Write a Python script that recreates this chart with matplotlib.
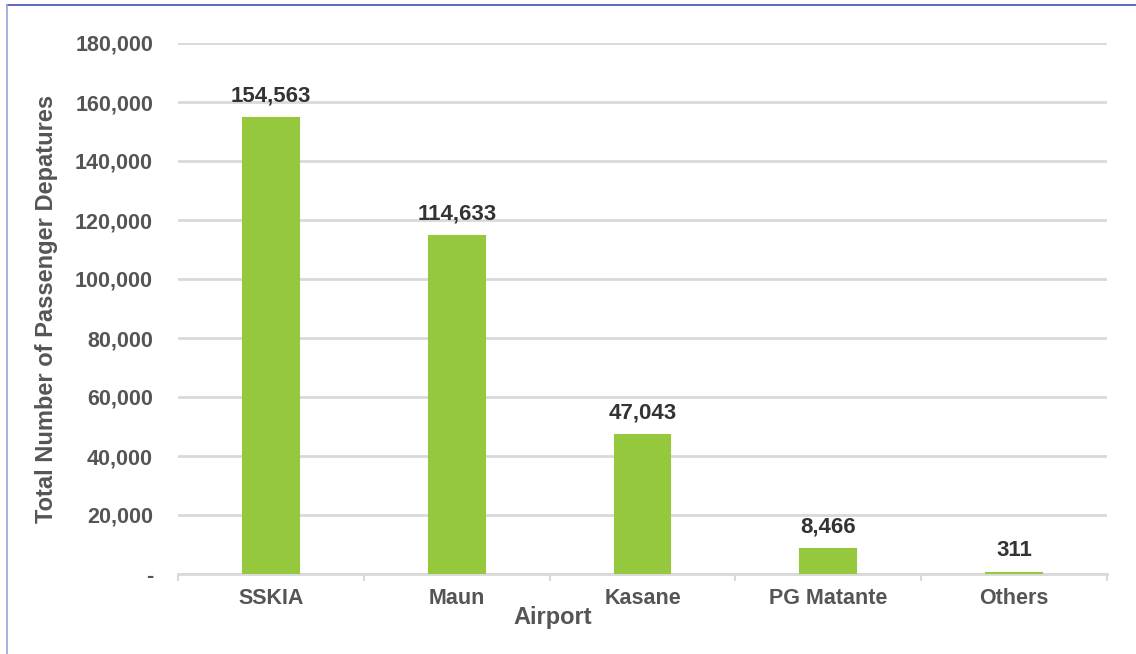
import matplotlib.pyplot as plt
from matplotlib.lines import Line2D

airports = ["SSKIA", "Maun", "Kasane", "PG Matante", "Others"]
departures = [154563, 114633, 47043, 8466, 311]
yticks = [0, 20000, 40000, 60000, 80000, 100000, 120000, 140000, 160000, 180000]
ytick_labels = ["-", "20,000", "40,000", "60,000", "80,000", "100,000",
                "120,000", "140,000", "160,000", "180,000"]

plt.rcParams["font.family"] = ["Liberation Sans", "DejaVu Sans"]
plt.rcParams["font.weight"] = "bold"

fig = plt.figure(figsize=(11.36, 6.54), dpi=100)
ax = fig.add_axes([178/1136, 80/654, (1107-178)/1136, (574-43)/654])

x = list(range(len(airports)))
ax.bar(x, departures, width=0.30, color="#95c83d", edgecolor="#95c83d",
       linewidth=1.5, zorder=3)
for xi, v in zip(x, departures):
    ax.text(xi, v + 4000, f"{v:,}", ha="center", va="bottom",
            fontsize=16, fontweight="bold", color="#333333")

ax.set_xlim(-0.5, len(airports) - 0.5)
ax.set_ylim(0, 180000)
ax.set_yticks(yticks)
ax.set_yticklabels(ytick_labels)
ax.set_xticks(x)
ax.set_xticklabels(airports)
ax.set_xticks([i - 0.5 for i in range(len(airports) + 1)], minor=True)

ax.grid(axis="y", color="#d9d9d9", linewidth=2, zorder=0)
for s in ["top", "right", "left"]:
    ax.spines[s].set_visible(False)
ax.spines["bottom"].set_color("#d9d9d9")
ax.spines["bottom"].set_linewidth(2)

ax.tick_params(axis="y", length=0, pad=18, labelsize=15.5, labelcolor="#555555")
ax.tick_params(axis="x", which="major", length=0, pad=10, labelsize=15.5, labelcolor="#555555")
ax.tick_params(axis="x", which="minor", length=5, width=1.5, color="#d9d9d9")

ax.set_xlabel("Airport", fontsize=17, fontweight="bold", color="#555555")
ax.xaxis.set_label_coords((553 - 178) / 929, -(606 - 574) / 531)
ax.set_ylabel("Total Number of Passenger Depatures", fontsize=17,
              fontweight="bold", color="#555555", labelpad=12)

fig.add_artist(Line2D([7/1136, 1], [1 - 4.5/654, 1 - 4.5/654],
                      transform=fig.transFigure, color="#3f51b5", linewidth=1.2))
fig.add_artist(Line2D([7/1136, 7/1136], [0, 1 - 4.5/654],
                      transform=fig.transFigure, color="#9aa5d8", linewidth=1.2))

fig.savefig("out.png", dpi=100)
